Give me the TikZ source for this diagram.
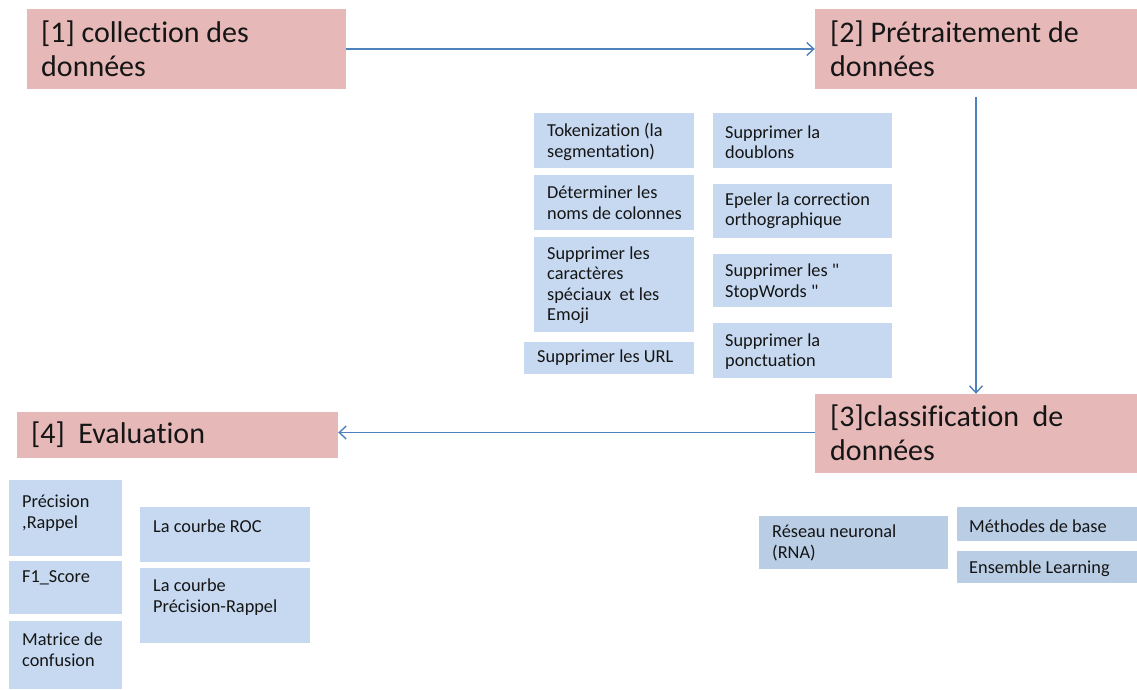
\documentclass[tikz,border=0pt]{standalone}
\usepackage{fontspec}
\setmainfont{Carlito}[Ligatures={TeX,NoCommon}]
\usetikzlibrary{arrows.meta}
\definecolor{pinkbox}{HTML}{E6B9B8}
\definecolor{bluebox}{HTML}{C6D9F1}
\definecolor{bluebox2}{HTML}{B9CDE5}
\definecolor{arrowc}{HTML}{4F81BD}
\definecolor{txtc}{HTML}{151515}
\tikzset{
 mainbox/.style={fill=pinkbox, draw=none, inner sep=0pt},
 subbox/.style={fill=bluebox, draw=none, inner sep=0pt},
 subboxb/.style={fill=bluebox2, draw=none, inner sep=0pt},
 maintxt/.style={anchor=west, inner sep=0pt, align=left, text=txtc, font=\fontsize{30}{34}\selectfont},
 subtxt/.style={anchor=west, inner sep=0pt, align=left, text=txtc, font=\fontsize{18.3}{20.5}\selectfont},
 flow/.style={draw=arrowc, line width=1.4pt, -{Straight Barb[length=7pt,width=13pt]}},
}
\newcommand\bx[6]{%
 \node[#1, minimum width={(#5-#3)*1pt}, minimum height={(#6-#4)*1pt}] (#2) at ({(#3+#5)/2},{(#4+#6)/2}) {};}
\begin{document}
\begin{tikzpicture}[x=1pt,y=-1pt]
\useasboundingbox (0,0) rectangle (1137,689);
% main boxes
\bx{mainbox}{b1}{27}{9}{346}{89}
\bx{mainbox}{b2}{815}{9}{1137}{89}
\bx{mainbox}{b3}{815}{394}{1137}{473}
\bx{mainbox}{b4}{17}{412}{338}{458}
\node[maintxt] (t1) at (41,49) {[1] collection des\\données};
\node[maintxt] (t2) at (830,49) {[2] Prétraitement de\\données};
\node[maintxt] (t3) at (830,432.5) {[3]classification~~de\\données};
\node[maintxt] (t4) at (31,435) {[4]~~Evaluation};
% preprocessing boxes
\bx{subbox}{p1}{534}{113}{694}{168}
\bx{subbox}{p2}{534}{175}{694}{230}
\bx{subbox}{p3}{534}{237}{694}{332}
\bx{subbox}{p4}{524}{342}{694}{374}
\bx{subbox}{p5}{713}{113}{892}{168}
\bx{subbox}{p6}{713}{184}{892}{238}
\bx{subbox}{p7}{713}{254}{892}{307}
\bx{subbox}{p8}{713}{323}{892}{378}
\node[subtxt] (pt1) at (547,142) {Tokenization (la\\segmentation)};
\node[subtxt] (pt2) at (547,202.5) {Déterminer les\\noms de colonnes};
\node[subtxt] (pt3) at (547,285) {Supprimer les\\caractères\\spéciaux~~et les\\Emoji};
\node[subtxt] (pt4) at (537,358) {Supprimer les URL};
\node[subtxt] (pt5) at (725,142) {Supprimer la\\doublons};
\node[subtxt] (pt6) at (725,210.5) {Epeler la correction\\orthographique};
\node[subtxt] (pt7) at (725,282) {Supprimer les \textquotedbl\\StopWords \textquotedbl};
\node[subtxt] (pt8) at (725,351.5) {Supprimer la\\ponctuation};
% evaluation boxes
\bx{subbox}{e1}{9}{480}{122}{556}
\bx{subbox}{e2}{9}{561}{122}{614}
\bx{subbox}{e3}{9}{621}{122}{689}
\bx{subbox}{e4}{140}{507}{310}{562}
\bx{subbox}{e5}{140}{568}{310}{643}
\node[subtxt] (et1) at (22,513) {Précision\\,Rappel};
\node[subtxt] (et2) at (22,578) {F1\_Score};
\node[subtxt] (et3) at (22,649.5) {Matrice de\\confusion};
\node[subtxt] (et4) at (153,526) {La courbe ROC};
\node[subtxt] (et5) at (153,597) {La courbe\\Précision-Rappel};
% classification boxes
\bx{subboxb}{c1}{759}{516}{948}{569}
\bx{subboxb}{c2}{957}{507}{1137}{541}
\bx{subboxb}{c3}{957}{551}{1137}{583}
\node[subtxt] (ct1) at (772,543) {Réseau neuronal\\(RNA)};
\node[subtxt] (ct2) at (969,526) {Méthodes de base};
\node[subtxt] (ct3) at (969,569) {Ensemble Learning};
% connectors
\draw[flow] (b1.east) -- (b2.west);
\draw[flow, shorten <=8pt] (b2.south) -- (b3.north);
\draw[flow] ([yshift=1pt]b3.west) -- ([yshift=1pt]b3.west -| b4.east);
\end{tikzpicture}
\end{document}
